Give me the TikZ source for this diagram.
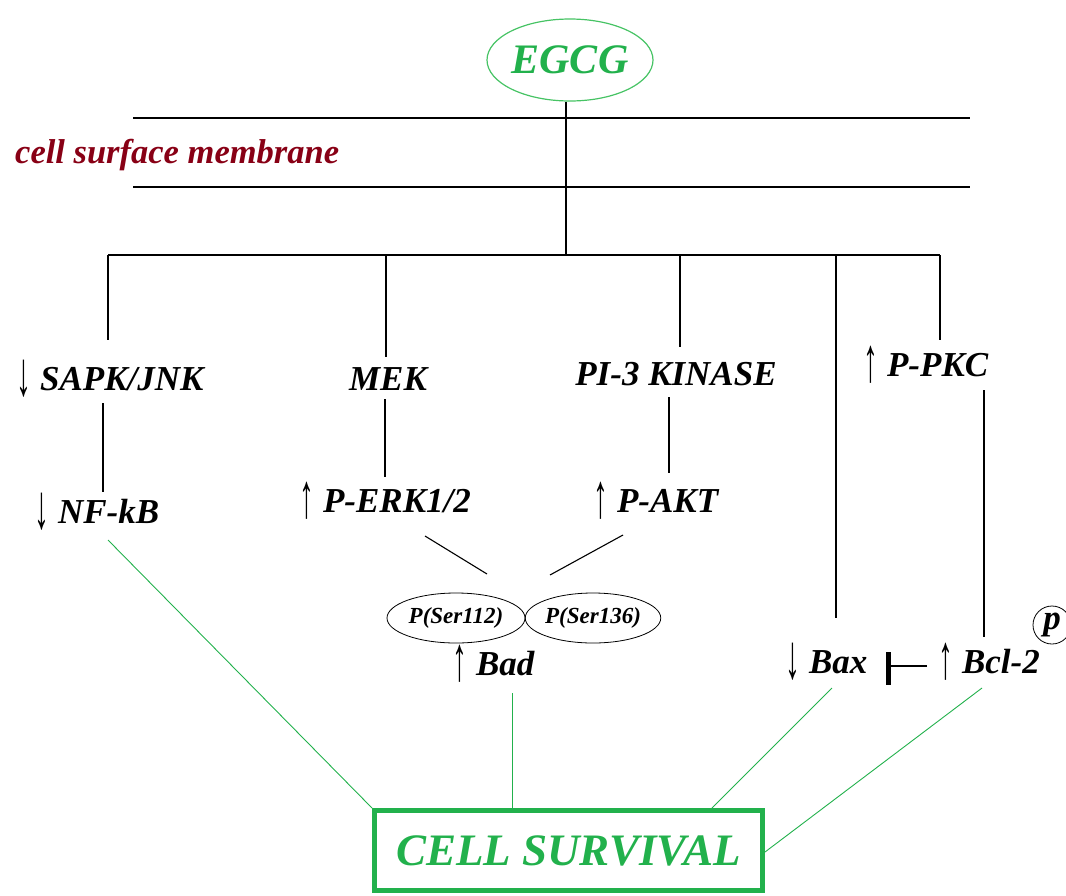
\documentclass[tikz,border=0pt]{standalone}
\usepackage{graphicx}
\usepackage{fontspec}
\setmainfont{Liberation Serif}
\usetikzlibrary{shapes.geometric}
\definecolor{pgreen}{RGB}{34,177,76}
\definecolor{egreen}{RGB}{70,195,100}
\definecolor{pred}{RGB}{136,0,21}
\newcommand{\arU}{\raisebox{-5pt}{\scalebox{0.85}[1.8]{\normalfont\char"2191}}\kern9pt}
\newcommand{\arD}{\raisebox{-5pt}{\scalebox{0.85}[1.8]{\normalfont\char"2193}}\kern9pt}
\tikzset{
  lbl/.style={font=\bfseries\itshape\fontsize{35}{40}\selectfont, inner sep=0pt, anchor=base west},
  sml/.style={draw, ellipse, line width=0.8pt, font=\bfseries\itshape\fontsize{23}{26}\selectfont, inner sep=0pt},
  blk/.style={line width=1.1pt, black},
  grn/.style={line width=0.9pt, pgreen},
}
\begin{document}
\begin{tikzpicture}[x=1pt,y=-1pt]
\useasboundingbox (0,0) rectangle (1066,895);
% EGCG
\node[draw=egreen, line width=1.2pt, ellipse, minimum width=166pt, minimum height=82pt, inner sep=0pt,
      text=pgreen, font=\bfseries\itshape\fontsize{42}{46}\selectfont] (egcg) at (570,60) {EGCG};
% membrane
\coordinate (m1l) at (133,118); \coordinate (m1r) at (970,118);
\coordinate (m2l) at (133,187); \coordinate (m2r) at (970,187);
\draw[blk] (m1l) -- (m1r);
\draw[blk] (m2l) -- (m2r);
\node[lbl, text=pred, font=\bfseries\itshape\fontsize{34.5}{38}\selectfont] (memb) at (15,163) {cell surface membrane};
% trunk and branch bar
\coordinate (hub) at (566,255);
\coordinate (bl) at (108,255); \coordinate (b2) at (386,255); \coordinate (b3) at (680,255);
\coordinate (b4) at (836,255); \coordinate (br) at (940,255);
\draw[blk] (egcg.south -| hub) -- (hub);
\draw[blk] (bl) -- (br);
% labels
\node[lbl] (sapk) at (16,390) {\arD SAPK/JNK};
\node[lbl, anchor=base] (mek) at (388,390) {MEK};
\node[lbl, anchor=base] (pi3) at (676,385) {PI-3 KINASE};
\node[lbl] (ppkc) at (863,376) {\arU P-PKC};
\node[lbl] (nfkb) at (34,523) {\arD NF-kB};
\node[lbl] (perk) at (299,512) {\arU P-ERK1/2};
\node[lbl] (pakt) at (593,512) {\arU P-AKT};
\node[sml, minimum width=138pt, minimum height=50pt] (s112) at (456,618) {P(Ser112)};
\node[sml, minimum width=132pt, minimum height=50pt] (s136) at (593,618) {P(Ser136)};
\node[lbl] (bad) at (452,675) {\arU Bad};
\node[lbl] (bax) at (785,673) {\arD Bax};
\node[lbl] (bcl) at (938,673) {\arU Bcl-2};
\node[draw, circle, line width=0.8pt, minimum size=38pt, inner sep=0pt,
      font=\bfseries\itshape\fontsize{35}{40}\selectfont] (pc) at (1052,625) {p};
% cell survival
\node[draw=pgreen, line width=5pt, minimum width=388pt, minimum height=80pt, inner sep=0pt,
      text=pgreen, font=\bfseries\itshape\fontsize{45}{50}\selectfont] (cs) at (568.5,850.5) {CELL SURVIVAL};
% branch drops
\coordinate (sapkT) at (108,340); \coordinate (mekT) at (386,357);
\coordinate (pi3T) at (680,347); \coordinate (baxT) at (836,618); \coordinate (ppkcT) at (940,340);
\draw[blk] (bl) -- (sapkT);
\draw[blk] (b2) -- (mekT);
\draw[blk] (b3) -- (pi3T);
\draw[blk] (b4) -- (baxT);
\draw[blk] (br) -- (ppkcT);
% second level
\coordinate (sapkB) at (103,403); \coordinate (nfkbT) at (103,492);
\coordinate (mekB) at (385,399); \coordinate (perkT) at (385,477);
\coordinate (pi3B) at (669,397); \coordinate (paktT) at (669,473);
\coordinate (ppkcB) at (984,390); \coordinate (bclT) at (984,637);
\draw[blk] (sapkB) -- (nfkbT);
\draw[blk] (mekB) -- (perkT);
\draw[blk] (pi3B) -- (paktT);
\draw[blk] (ppkcB) -- (bclT);
\coordinate (perkB) at (425,536); \coordinate (badL) at (487,574);
\coordinate (paktB) at (623,535); \coordinate (badR) at (550,575);
\draw[blk] (perkB) -- (badL);
\draw[blk] (paktB) -- (badR);
% inhibition
\coordinate (inhS) at (927,666); \coordinate (inhE) at (888,666);
\draw[blk] (inhS) -- (inhE);
\draw[line width=5pt] (888,652) -- (888,685);
% green connectors
\coordinate (nfkbB) at (108,540); \coordinate (badB) at (512,693);
\coordinate (baxB) at (832,688); \coordinate (bclB) at (982,688);
\draw[grn] (nfkbB) -- (cs.north west);
\draw[grn] (badB) -- (badB |- cs.north);
\draw[grn] (baxB) -- (712,808);
\draw[grn] (bclB) -- (cs.east |- 0,852);
\end{tikzpicture}
\end{document}
